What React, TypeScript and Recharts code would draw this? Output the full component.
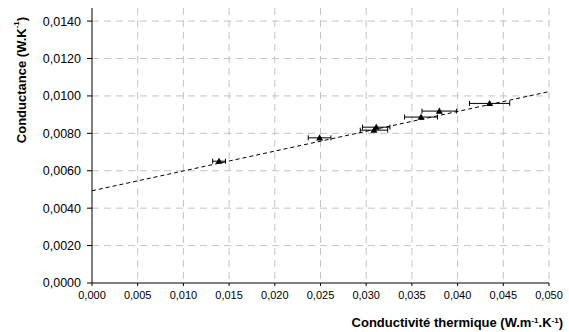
import { CartesianGrid, ErrorBar, ReferenceLine, Scatter, ScatterChart, XAxis, YAxis } from "recharts";

// conductivity (W.m-1.K-1), conductance (W.K-1), x error half-width
const conductivity = [0.0139, 0.0249, 0.0311, 0.03085, 0.0360, 0.0380, 0.0435];
const conductance = [0.00651, 0.00776, 0.00833, 0.00817, 0.00887, 0.00919, 0.0096];
const xError = [0.0007, 0.00124, 0.0015, 0.0015, 0.0018, 0.0019, 0.0022];

// dashed trend line, ends
const trendX = [0, 0.05];
const trendY = [0.00493, 0.01023];

const xTicks = [0, 0.005, 0.01, 0.015, 0.02, 0.025, 0.03, 0.035, 0.04, 0.045, 0.05];
const yTicks = [0, 0.002, 0.004, 0.006, 0.008, 0.01, 0.012, 0.014];

const points = conductivity.map((x, i) => ({ x, y: conductance[i], ex: xError[i] }));
const trend = trendX.map((x, i) => ({ x, y: trendY[i] }));

const font = "'Liberation Sans', Arial, sans-serif";
const comma = (v: number, d: number) => v.toFixed(d).replace(".", ",");
const gridColor = "#c4c4c4";
const gridDash = "7 5";

// small filled triangle centred on the point
const Tri = (p: any) => {
  const { cx, cy } = p;
  if (cx == null || cy == null) return <g />;
  const r = 3.5;
  return <path d={`M${cx},${cy - r}L${cx + r},${cy + r * 0.75}L${cx - r},${cy + r * 0.75}Z`} fill="#000" />;
};

const YTitle = () => (
  <text
    x={21}
    y={80}
    transform="rotate(-90 21 80)"
    textAnchor="middle"
    dominantBaseline="central"
    fontFamily={font}
    fontSize={13}
    fontWeight="bold"
    fill="#000"
  >
    Conductance (W.K<tspan baselineShift="super" fontSize={8}>-1</tspan>)
  </text>
);

const XTitle = () => (
  <text x={563} y={327} textAnchor="end" fontFamily={font} fontSize={13} fontWeight="bold" fill="#000">
    Conductivité thermique (W.m<tspan baselineShift="super" fontSize={8}>-1</tspan>.K
    <tspan baselineShift="super" fontSize={8}>-1</tspan>)
  </text>
);

export default function App() {
  return (
    <div style={{ position: "absolute", left: 0, top: 0, width: 569, height: 332, background: "#fff" }}>
      <ScatterChart width={569} height={332} margin={{ top: 8, right: 20, bottom: 0, left: 0 }}>
        <CartesianGrid stroke={gridColor} strokeDasharray={gridDash} horizontal={false} verticalValues={xTicks.slice(1)} />
        {yTicks.slice(1).map((t) => (
          <ReferenceLine key={t} y={t} stroke={gridColor} strokeDasharray={gridDash} />
        ))}
        <XAxis
          type="number"
          dataKey="x"
          domain={[0, 0.05]}
          ticks={xTicks}
          tickFormatter={(v: number) => comma(v, 3)}
          height={49}
          stroke="#000"
          tickSize={3}
          tick={{ fontFamily: font, fontSize: 11, fill: "#000" }}
          tickMargin={5}
          label={<XTitle />}
        />
        <YAxis
          type="number"
          dataKey="y"
          domain={[0, 0.0147]}
          ticks={yTicks}
          tickFormatter={(v: number) => comma(v, 4)}
          width={92}
          stroke="#000"
          tickSize={5}
          tick={{ fontFamily: font, fontSize: 12.5, fill: "#000" }}
          tickMargin={6}
          label={<YTitle />}
        />
        <Scatter
          data={trend}
          isAnimationActive={false}
          line={{ stroke: "#000", strokeWidth: 1, strokeDasharray: "4 3" }}
          shape={() => <g />}
        />
        <Scatter data={points} shape={Tri} fill="#000" isAnimationActive={false}>
          <ErrorBar dataKey="ex" direction="x" width={2.5} stroke="#000" strokeWidth={1} />
        </Scatter>
      </ScatterChart>
    </div>
  );
}
